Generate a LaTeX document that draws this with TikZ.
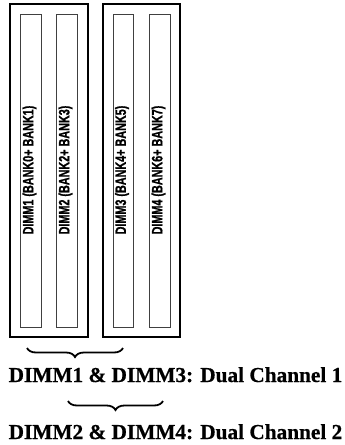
\documentclass[tikz,border=0pt]{standalone}
\usepackage{fontspec}
\setmainfont{Liberation Serif}
\newfontfamily\slotfont[FakeBold=1.2]{Liberation Sans Bold}
\newfontfamily\chanfont[FakeBold=0.6]{Liberation Serif Bold}
\usetikzlibrary{decorations.pathreplacing}
\begin{document}
\begin{tikzpicture}[x=1pt,y=-1pt,
  outerbox/.style={draw=black,line width=1.5pt},
  slotbox/.style={draw=black!75,line width=0.9pt},
  slotlabel/.style={rotate=90,inner sep=0pt,font=\slotfont\fontsize{15}{15}\selectfont},
  chanbrace/.style={decorate,decoration={brace,mirror,amplitude=9pt,raise=0pt},line width=1.8pt},
  chanlabel/.style={anchor=base,inner sep=0pt,font=\chanfont\fontsize{21.3}{21.3}\selectfont}]
\useasboundingbox (0,0) rectangle (345,445);
% outer boxes
\draw[outerbox] (10,4) rectangle (88,337);
\draw[outerbox] (103,4) rectangle (180,337);
% slots
\draw[slotbox] (20,14) rectangle (41,327);
\draw[slotbox] (56,14) rectangle (77,327);
\draw[slotbox] (113,14) rectangle (133,327);
\draw[slotbox] (149,14) rectangle (170,327);
% labels
\node[slotlabel] (l1) at (29.5,170) {\scalebox{0.72}[1]{DIMM1 (BANK0+ BANK1)}};
\node[slotlabel] (l2) at (65.5,170) {\scalebox{0.72}[1]{DIMM2 (BANK2+ BANK3)}};
\node[slotlabel] (l3) at (122,170) {\scalebox{0.72}[1]{DIMM3 (BANK4+ BANK5)}};
\node[slotlabel] (l4) at (158.5,170) {\scalebox{0.72}[1]{DIMM4 (BANK6+ BANK7)}};
% braces
\coordinate (b1a) at (27,348);
\coordinate (b1b) at (123,348);
\coordinate (b2a) at (68,401);
\coordinate (b2b) at (163,401);
\draw[chanbrace] (b1a) -- (b1b);
\draw[chanbrace] (b2a) -- (b2b);
\node[chanlabel] (t1) at (175.5,382) {DIMM1 \& DIMM3: Dual Channel 1};
\node[chanlabel] (t2) at (175.5,439) {DIMM2 \& DIMM4: Dual Channel 2};
\end{tikzpicture}
\end{document}
